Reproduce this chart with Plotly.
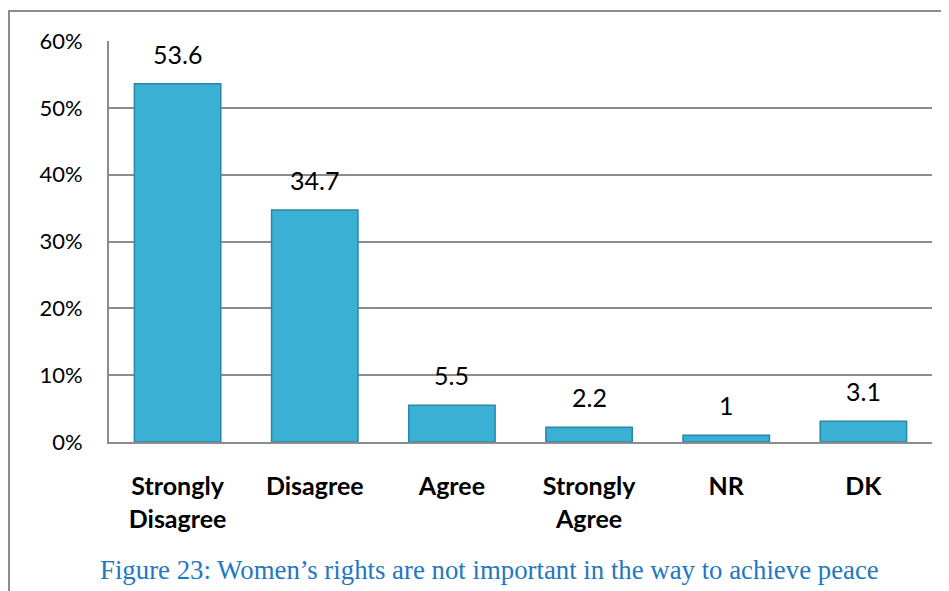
"""Women's rights survey chart (Figure 23) rebuilt with Plotly."""

import plotly.graph_objects as go

# ---------------------------------------------------------------------------
# Data
# ---------------------------------------------------------------------------

categories = ["Strongly<br>Disagree", "Disagree", "Agree", "Strongly<br>Agree", "NR", "DK"]
shares = [53.6, 34.7, 5.5, 2.2, 1, 3.1]
y_ticks = [0, 10, 20, 30, 40, 50, 60]
y_tick_text = ["0%", "10%", "20%", "30%", "40%", "50%", "60%"]
caption = "Figure 23: Women\u2019s rights are not important in the way to achieve peace"

GRID = "#8c8c8c"
BAR = "#39b0d4"
BAR_EDGE = "#2a87a3"
SANS = "Lato, Noto Sans, sans-serif"

fig = go.Figure()
fig.add_trace(
    go.Bar(
        x=categories,
        y=shares,
        width=0.63,
        marker=dict(color=BAR, line=dict(color=BAR_EDGE, width=1.5)),
        showlegend=False,
        hoverinfo="x+y",
    )
)

# value labels above bars
for cat, val in zip(categories, shares):
    fig.add_annotation(
        x=cat, y=val, text=str(val), showarrow=False,
        yanchor="middle", yshift=30,
        font=dict(family=SANS, size=25, color="#000000"),
    )

# caption under the chart
fig.add_annotation(
    xref="paper", yref="paper", x=0.4623, y=-0.319,
    text=caption, showarrow=False, xanchor="center", yanchor="middle",
    font=dict(family="Liberation Serif, Times New Roman, serif", size=26.8, color="#2277c2"),
)

# outer frame of the chart object
fig.add_shape(
    type="rect", xref="paper", yref="paper",
    x0=-0.1215, x1=1.2, y0=-0.6, y1=1.0748,
    line=dict(color=GRID, width=2), fillcolor="rgba(0,0,0,0)", layer="below",
)

# page body adds an 8px offset, so the figure is 8px smaller than the window
fig.update_layout(
    width=941,
    height=583,
    margin=dict(l=101, r=17, t=33, b=149),
    paper_bgcolor="white",
    plot_bgcolor="white",
    bargap=0.37,
    font=dict(family=SANS, color="#000000"),
)
fig.update_xaxes(
    automargin=False,
    showline=True, linecolor=GRID, linewidth=2,
    showgrid=False, ticks="",
    ticklabelstandoff=21,
    tickfont=dict(size=25, family=SANS, weight="bold"),
)
fig.update_yaxes(
    automargin=False,
    range=[0, 60], tickvals=y_ticks, ticktext=y_tick_text,
    showgrid=True, gridcolor=GRID, gridwidth=2,
    showline=True, linecolor=GRID, linewidth=2,
    zeroline=False, ticks="",
    ticklabelstandoff=20,
    tickfont=dict(size=22),
)

fig.write_html("out.html")
